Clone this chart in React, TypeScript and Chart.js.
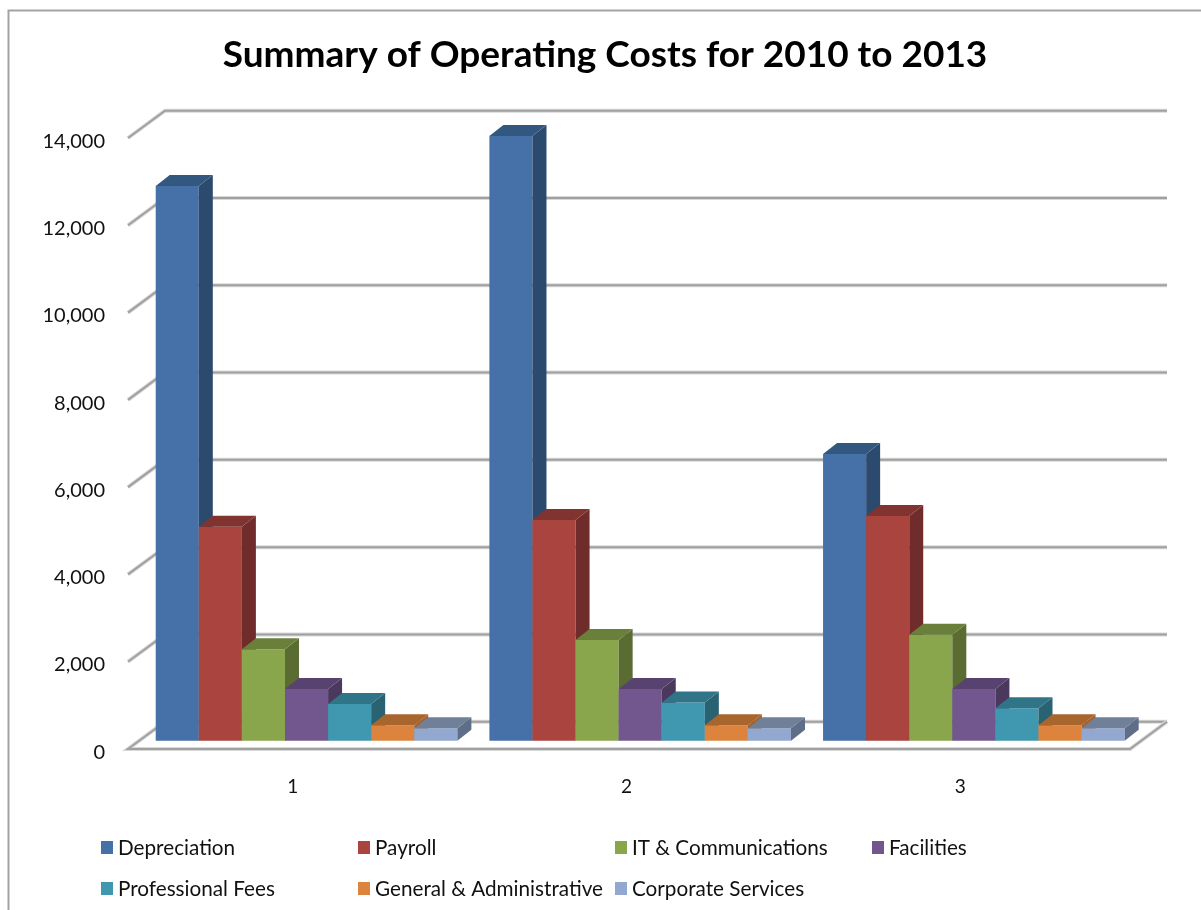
import React, { useEffect, useRef } from "react";
import { Chart, registerables } from "chart.js";

Chart.register(...registerables);

const categories = ["1", "2", "3"];
const seriesNames = [
  "Depreciation",
  "Payroll",
  "IT & Communications",
  "Facilities",
  "Professional Fees",
  "General & Administrative",
  "Corporate Services",
];
const depreciation = [12710, 13855, 6570];
const payroll = [4903, 5057, 5148];
const itCommunications = [2095, 2310, 2428];
const facilities = [1185, 1185, 1185];
const professionalFees = [841, 873, 744];
const generalAdmin = [353, 353, 353];
const corporateServices = [284, 284, 284];
const seriesValues = [
  depreciation,
  payroll,
  itCommunications,
  facilities,
  professionalFees,
  generalAdmin,
  corporateServices,
];

const frontColors = ["#4571A8", "#A9443F", "#8AA64D", "#72578F", "#3F98B0", "#DC843D", "#92A8D0"];
const sideColors = ["#2C4A6E", "#6F2C2A", "#5A6C32", "#4A395D", "#296373", "#A6622B", "#5F6E88"];
const topColors = ["#33587F", "#813330", "#6A803A", "#58426F", "#307487", "#A8652E", "#708099"];

const FONT = "Lato, 'Open Sans', sans-serif";
const DEPTH_X = 14;
const DEPTH_Y = 11;

function gridLine(ctx: CanvasRenderingContext2D, pts: number[][]) {
  ctx.beginPath();
  pts.forEach((p, i) => (i ? ctx.lineTo(p[0], p[1]) : ctx.moveTo(p[0], p[1])));
  ctx.lineJoin = "miter";
  ctx.strokeStyle = "#D8D8D8";
  ctx.lineWidth = 4;
  ctx.stroke();
  ctx.strokeStyle = "#A0A0A0";
  ctx.lineWidth = 2;
  ctx.stroke();
}

const frame3d = {
  id: "frame3d",
  afterLayout(chart: any) {
    // The title is centred on the frame, not on the plot's padded box.
    if (chart.titleBlock) {
      chart.titleBlock.left += 19.7;
      chart.titleBlock.right += 19.7;
    }
  },
  beforeDraw(chart: any) {
    const ctx = chart.ctx;
    ctx.save();
    ctx.strokeStyle = "#A3A3A3";
    ctx.lineWidth = 2;
    ctx.beginPath();
    ctx.moveTo(8.5, 910);
    ctx.lineTo(8.5, 10.5);
    ctx.lineTo(1201, 10.5);
    ctx.stroke();
    ctx.restore();
  },
  beforeDatasetsDraw(chart: any) {
    const { ctx, chartArea, scales } = chart;
    const y = scales.y;
    const fl = chartArea.left - 11.7;
    const fr = fl + 1002;
    const bl = chartArea.left + 25.3;
    const br = bl + 1002;
    ctx.save();
    y.ticks.forEach((t: any) => {
      const py = y.getPixelForValue(t.value);
      const fy = py + 8.3;
      const by = py - 19;
      if (t.value === 0) {
        gridLine(ctx, [[br, by], [bl, by]]);
        gridLine(ctx, [[bl, by], [fl, fy], [fr, fy], [br, by]]);
      } else {
        gridLine(ctx, [[fl, fy], [bl, by], [br, by]]);
      }
    });
    ctx.restore();
  },
  // Default painting runs last-to-first; a 3D row must paint first-to-last.
  beforeDatasetDraw() {
    return false;
  },
  afterDatasetsDraw(chart: any) {
    const ctx = chart.ctx;
    chart.data.datasets.forEach((_: any, i: number) => {
      const meta = chart.getDatasetMeta(i);
      meta.controller.draw();
      ctx.save();
      meta.data.forEach((bar: any) => {
        const { x, y, base, width } = bar.getProps(["x", "y", "base", "width"], true);
        const l = x - width / 2;
        const r = x + width / 2;
        ctx.fillStyle = sideColors[i];
        ctx.beginPath();
        ctx.moveTo(r, y);
        ctx.lineTo(r + DEPTH_X, y - DEPTH_Y);
        ctx.lineTo(r + DEPTH_X, base - DEPTH_Y);
        ctx.lineTo(r, base);
        ctx.closePath();
        ctx.fill();
        ctx.fillStyle = topColors[i];
        ctx.beginPath();
        ctx.moveTo(l, y);
        ctx.lineTo(l + DEPTH_X, y - DEPTH_Y);
        ctx.lineTo(r + DEPTH_X, y - DEPTH_Y);
        ctx.lineTo(r, y);
        ctx.closePath();
        ctx.fill();
      });
      ctx.restore();
    });
  },
  afterDraw(chart: any) {
    const ctx = chart.ctx;
    const colX = [101, 358, 615, 872];
    const rowY = [848, 889];
    ctx.save();
    ctx.font = `20.7px ${FONT}`;
    ctx.textBaseline = "middle";
    ctx.textAlign = "left";
    chart.data.datasets.forEach((ds: any, i: number) => {
      const x = colX[i % 4];
      const yy = rowY[Math.floor(i / 4)];
      ctx.fillStyle = ds.backgroundColor;
      ctx.fillRect(x, yy - 7, 12, 13);
      ctx.fillStyle = "#111111";
      ctx.fillText(ds.label, x + 17, yy);
    });
    ctx.restore();
  },
};

export default function App() {
  const ref = useRef<HTMLCanvasElement>(null);
  useEffect(() => {
    const chart = new Chart(ref.current as HTMLCanvasElement, {
      type: "bar",
      data: {
        labels: categories,
        datasets: seriesNames.map((name, i) => ({
          label: name,
          data: seriesValues[i],
          backgroundColor: frontColors[i],
          borderWidth: 0,
          barPercentage: 1,
          categoryPercentage: 0.904,
        })),
      },
      options: {
        animation: false,
        responsive: false,
        devicePixelRatio: 1,
        layout: { padding: { left: 30, right: 60.3, top: 0, bottom: 0 } },
        plugins: {
          legend: { display: false },
          tooltip: { enabled: false },
          title: {
            display: true,
            text: "Summary of Operating Costs for 2010 to 2013",
            color: "#000000",
            font: { family: FONT, size: 37, weight: "bold" },
            padding: { top: 33, bottom: 52.3 },
          },
        },
        scales: {
          x: {
            grid: { display: false },
            border: { display: false },
            afterFit: (s: any) => {
              s.height = 169.3;
            },
            ticks: {
              color: "#111111",
              font: { family: FONT, size: 19 },
              padding: 27,
              labelOffset: -13.7,
              maxRotation: 0,
            },
          },
          y: {
            min: 0,
            max: 14000,
            grid: { display: false },
            border: { display: false },
            afterFit: (s: any) => {
              s.width = 109.7;
            },
            ticks: {
              stepSize: 2000,
              color: "#111111",
              font: { family: FONT, size: 20 },
              padding: 26.7,
              labelOffset: 11.6,
              callback: (v: any) => Number(v).toLocaleString("en-US"),
            },
          },
        },
      },
      plugins: [frame3d],
    } as any);
    return () => chart.destroy();
  }, []);
  return (
    <canvas
      ref={ref}
      width={1201}
      height={910}
      style={{ position: "absolute", left: 0, top: 0, display: "block" }}
    />
  );
}
